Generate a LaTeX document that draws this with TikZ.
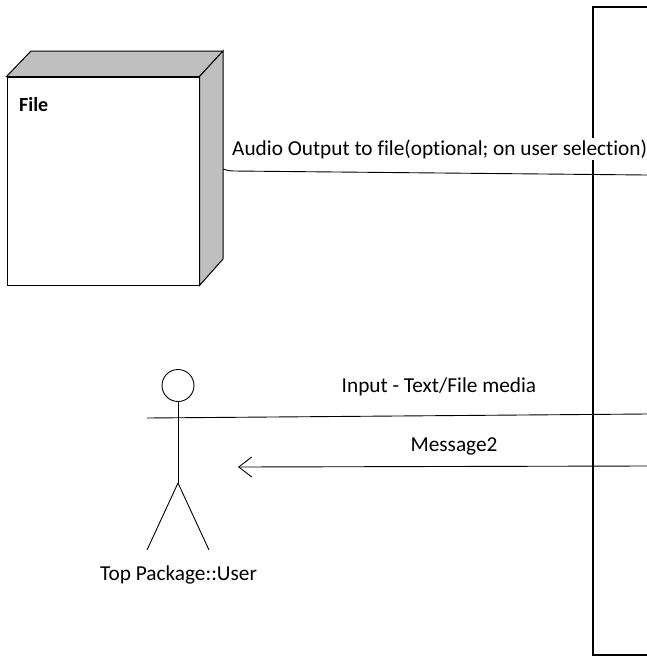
\documentclass[tikz,border=0pt]{standalone}
\usepackage{fontspec}
\setmainfont[Ligatures=NoCommon]{Carlito}
\usetikzlibrary{arrows.meta}
\tikzset{
  lbl/.style={inner sep=0pt, font=\fontsize{21.3}{24}\selectfont},
  facebox/.style={draw, rectangle, line width=1pt, minimum width=192pt, minimum height=208pt, inner sep=0pt},
  sideface/.style={draw, line width=1pt, fill=black!25},
  stick/.style={line width=0.9pt}
}
\begin{document}
\begin{tikzpicture}[x=1pt, y=-1pt]
  \useasboundingbox (0,0) rectangle (647,657);

  % System boundary
  \coordinate (systl) at (593,7);
  \coordinate (systr) at (647,7);
  \coordinate (sysbl) at (593,655);
  \coordinate (sysbr) at (647,655);
  \draw[line width=1.2pt] (systr) -- (systl) -- (sysbl) -- (sysbr);

  % File node
  \node[facebox] (file) at (103,181) {};
  \node[lbl, font=\fontsize{20}{24}\selectfont\bfseries, anchor=west] (filelabel) at (19,105) {File};
  \draw[sideface] (file.north west) -- (31,51) -- (223,51) -- (file.north east) -- cycle;
  \draw[sideface] (file.north east) -- (223,51) -- (223,259) -- (file.south east) -- cycle;
  \coordinate (fileport) at (223,169);

  % Actor
  \node[draw, circle, line width=0.9pt, minimum size=32pt, inner sep=0pt] (head) at (178,385.5) {};
  \coordinate (hip) at (178,483);
  \coordinate (armend) at (147,418);
  \coordinate (footl) at (147,550);
  \coordinate (footr) at (209,550);
  \draw[stick] (head) -- (hip);
  \draw[stick] (hip) -- (footl);
  \draw[stick] (hip) -- (footr);
  \node[lbl] (actor) at (178.5,575) {Top Package::User};

  % Relationships
  \coordinate (audioend) at (647,175);
  \coordinate (inputend) at (647,414);
  \coordinate (msgstart) at (647,466);
  \coordinate (msgend) at (238,467);
  \draw[stick] (fileport) .. controls (226,170) and (229,171) .. (234,171) -- (audioend);
  \draw[stick] (armend) -- (inputend);
  \draw[stick, -{Straight Barb[length=13pt, width=20pt, line width=0.9pt]}] (msgstart) -- (msgend);

  % Labels
  \node[lbl, fill=white, inner sep=1pt, anchor=west] (audio) at (231,149) {Audio Output to file(optional; on user selection)};
  \node[lbl] (input) at (439,387) {Input - Text/File media};
  \node[lbl] (msg) at (454,446) {Message2};
\end{tikzpicture}
\end{document}
